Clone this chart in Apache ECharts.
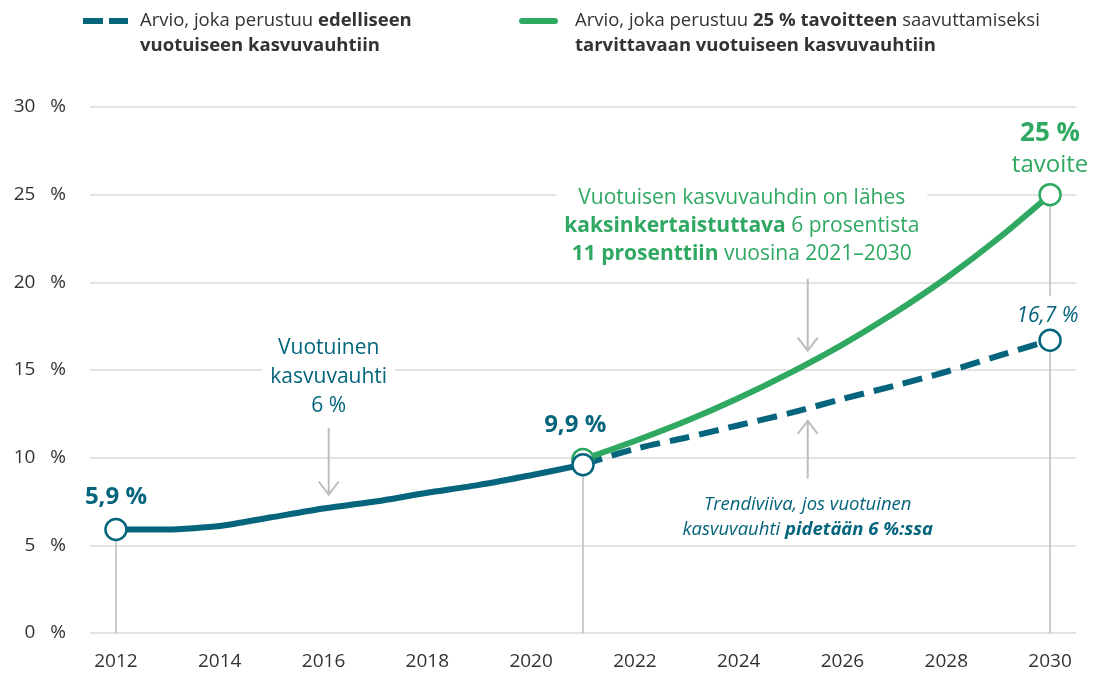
<!DOCTYPE html>
<html>
<head>
<meta charset="utf-8">
<script src="https://cdn.jsdelivr.net/npm/echarts@6/dist/echarts.min.js"></script>
<style>
html, body { margin: 0; padding: 0; background: #fff; }
#main { width: 1094px; height: 674px; }
</style>
</head>
<body>
<div id="main"></div>
<script>
// toteutunut kehitys
var histYears = [2012, 2013, 2014, 2015, 2016, 2017, 2018, 2019, 2020, 2021];
var histValues = [5.9, 5.9, 6.1, 6.6, 7.1, 7.5, 8.0, 8.45, 9.0, 9.6];
// ennusteet 2021-2030
var projYears = [2021, 2022, 2023, 2024, 2025, 2026, 2027, 2028, 2029, 2030];
var trendValues = [9.6, 10.5, 11.15, 11.85, 12.55, 13.35, 14.1, 14.9, 15.8, 16.7];
var targetValues = [9.9, 10.95, 12.1, 13.4, 14.85, 16.45, 18.25, 20.25, 22.5, 25.0];
var yTicks = [0, 5, 10, 15, 20, 25, 30];
var xLabelYears = [2012, 2014, 2016, 2018, 2020, 2022, 2024, 2026, 2028, 2030];

var TEAL = '#04657c';
var GREEN = '#2fa862';
var GREY = '#bdbdbd';
var FONT = '"Open Sans", "Noto Sans", sans-serif';

function zip(xs, ys) {
    var out = [];
    for (var i = 0; i < xs.length; i++) {
        out.push([xs[i], ys[i]]);
    }
    return out;
}

var last = histYears.length - 1;
var endYear = projYears[projYears.length - 1];

// apuviivat ympyröistä alas
function guide(x, y0, y1) {
    return {
        type: 'line', silent: true, symbol: 'none', z: 1,
        lineStyle: { color: GREY, width: 1.5 },
        data: [[x, y0], [x, y1]]
    };
}

function circles(points, color, z) {
    return {
        type: 'scatter', silent: true, z: z,
        symbol: 'circle', symbolSize: 21,
        itemStyle: { color: '#fff', borderColor: color, borderWidth: 2.5, opacity: 1 },
        data: points
    };
}

// nuolet: [x, alku, kärki]
var arrows = [
    [2016.1, 11.7, 7.9],
    [2025.33, 20.2, 16.1],
    [2025.33, 8.8, 12.1]
];

var chart = echarts.init(document.getElementById('main'));

var option = {
    animation: false,
    backgroundColor: '#fff',
    textStyle: { fontFamily: FONT },
    grid: { left: 90, right: 18, top: 107, bottom: 41 },
    xAxis: {
        type: 'value',
        min: 2011.5,
        max: 2030.5,
        interval: 0.5,
        axisLine: { show: false },
        axisTick: { show: false },
        splitLine: { show: false },
        axisLabel: {
            margin: 19,
            color: '#333',
            fontSize: 19,
            fontFamily: FONT,
            showMinLabel: false,
            showMaxLabel: false,
            formatter: function (v) {
                return xLabelYears.indexOf(v) >= 0 ? String(v) : '';
            }
        }
    },
    yAxis: {
        type: 'value',
        min: yTicks[0],
        max: yTicks[yTicks.length - 1],
        interval: 5,
        axisLine: { show: false },
        axisTick: { show: false },
        splitLine: { lineStyle: { color: '#dadada', width: 1.5 } },
        axisLabel: {
            margin: 24,
            color: '#333',
            fontSize: 19,
            fontFamily: FONT,
            formatter: '{value}   %'
        }
    },
    series: [
        guide(histYears[0], 0, histValues[0]),
        guide(histYears[last], 0, histValues[last]),
        guide(endYear, 0, trendValues[trendValues.length - 1]),
        guide(endYear, 19.2, targetValues[targetValues.length - 1]),
        {
            type: 'custom', silent: true, z: 1,
            data: arrows,
            encode: { x: 0, y: [1, 2] },
            renderItem: function (params, api) {
                var p1 = api.coord([api.value(0), api.value(1)]);
                var p2 = api.coord([api.value(0), api.value(2)]);
                var dir = p2[1] > p1[1] ? 1 : -1;
                return {
                    type: 'group',
                    children: [
                        { type: 'line', shape: { x1: p1[0], y1: p1[1], x2: p2[0], y2: p2[1] },
                          style: { stroke: GREY, lineWidth: 2 } },
                        { type: 'polyline', shape: { points: [[p2[0] - 10, p2[1] - dir * 13], [p2[0], p2[1]], [p2[0] + 10, p2[1] - dir * 13]] },
                          style: { stroke: GREY, lineWidth: 2, fill: null } }
                    ]
                };
            }
        },
        {
            name: 'trendi', type: 'line', symbol: 'none', z: 2, smooth: 0.3,
            lineStyle: { color: TEAL, width: 6, type: [20, 10] },
            data: zip(projYears, trendValues)
        },
        {
            name: 'tavoite', type: 'line', symbol: 'none', z: 3, smooth: 0.3,
            lineStyle: { color: GREEN, width: 6 },
            data: zip(projYears, targetValues)
        },
        circles([[projYears[0], targetValues[0]], [endYear, targetValues[targetValues.length - 1]]], GREEN, 4),
        {
            name: 'toteutunut', type: 'line', symbol: 'none', z: 5, smooth: 0.2,
            lineStyle: { color: TEAL, width: 6 },
            data: zip(histYears, histValues)
        },
        circles([[histYears[0], histValues[0]], [histYears[last], histValues[last]], [endYear, trendValues[trendValues.length - 1]]], TEAL, 6)
    ]
};
chart.setOption(option);

// tekstit datakoordinaatteihin
var notes = [
    { at: [2016.1, 14.6], size: 21, color: TEAL, lh: 29, bg: true,
      text: 'Vuotuinen\nkasvuvauhti\n6 %' },
    { at: [2024.06, 23.2], size: 21, color: GREEN, lh: 28, bg: true,
      text: 'Vuotuisen kasvuvauhdin on lähes\n{b|kaksinkertaistuttava} 6 prosentista\n{b|11 prosenttiin} vuosina 2021–2030' },
    { at: [2025.33, 6.6], size: 18.5, color: TEAL, lh: 25, italic: true,
      text: 'Trendiviiva, jos vuotuinen\nkasvuvauhti {b|pidetään 6 %:ssa}' },
    { at: [2020.85, 11.86], size: 24, color: TEAL, bold: true, text: '9,9 %' },
    { at: [2012, 7.75], size: 24, color: TEAL, bold: true, text: '5,9 %' },
    { at: [2030, 28.5], size: 26, color: GREEN, bold: true, text: '25 %' },
    { at: [2030, 26.7], size: 24, color: GREEN, text: 'tavoite' },
    { at: [2029.95, 18.1], size: 21, color: TEAL, italic: true, text: '16,7 %' }
];

var graphics = [];
notes.forEach(function (n) {
    var p = chart.convertToPixel({ gridIndex: 0 }, n.at);
    var st = {
        text: n.text,
        x: p[0], y: p[1],
        align: 'center', verticalAlign: 'middle',
        fontFamily: FONT,
        fontSize: n.size,
        fontWeight: n.bold ? 'bold' : 'normal',
        fontStyle: n.italic ? 'italic' : 'normal',
        fill: n.color,
        lineHeight: n.lh || n.size * 1.3,
        rich: {
            b: { fontFamily: FONT, fontSize: n.size, fontWeight: 'bold', fill: n.color,
                 fontStyle: n.italic ? 'italic' : 'normal', lineHeight: n.lh || n.size * 1.3 }
        }
    };
    if (n.bg) {
        st.backgroundColor = '#fff';
        st.padding = [0, 8];
    }
    graphics.push({ type: 'text', z: 50, silent: true, style: st });
});

// selite
var legendFont = 18.5;
graphics.push(
    { type: 'line', shape: { x1: 83, y1: 21, x2: 103, y2: 21 }, style: { stroke: TEAL, lineWidth: 6 } },
    { type: 'line', shape: { x1: 109, y1: 21, x2: 128, y2: 21 }, style: { stroke: TEAL, lineWidth: 6 } },
    { type: 'line', shape: { x1: 522, y1: 21, x2: 555, y2: 21 }, style: { stroke: GREEN, lineWidth: 6, lineCap: 'round' } },
    { type: 'text', left: 140, top: 8, style: {
        text: 'Arvio, joka perustuu {b|edelliseen}\n{b|vuotuiseen kasvuvauhtiin}',
        fontFamily: FONT, fontSize: legendFont, fill: '#333', lineHeight: 25,
        rich: { b: { fontFamily: FONT, fontSize: legendFont, fontWeight: 'bold', fill: '#333', lineHeight: 25 } }
    } },
    { type: 'text', left: 575, top: 8, style: {
        text: 'Arvio, joka perustuu {b|25 % tavoitteen} saavuttamiseksi\n{b|tarvittavaan vuotuiseen kasvuvauhtiin}',
        fontFamily: FONT, fontSize: legendFont, fill: '#333', lineHeight: 25,
        rich: { b: { fontFamily: FONT, fontSize: legendFont, fontWeight: 'bold', fill: '#333', lineHeight: 25 } }
    } }
);

chart.setOption({ graphic: graphics });
</script>
</body>
</html>
